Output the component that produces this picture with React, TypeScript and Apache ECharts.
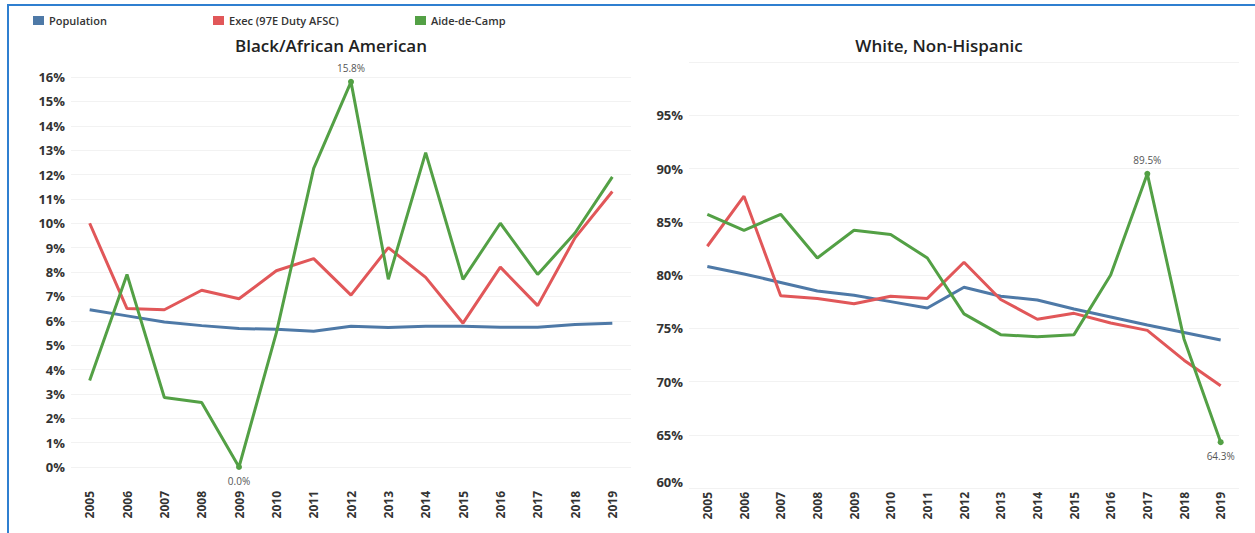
import React, { useEffect, useRef } from "react";
import * as echarts from "echarts";

const years = ["2005","2006","2007","2008","2009","2010","2011","2012","2013","2014","2015","2016","2017","2018","2019"];

const seriesNames = ["Population", "Exec (97E Duty AFSC)", "Aide-de-Camp"];
const colors = ["#4e79a7", "#e15759", "#53a045"];

// Black/African American (%)
const blackPopulation = [6.45, 6.2, 5.95, 5.8, 5.68, 5.65, 5.57, 5.77, 5.72, 5.77, 5.77, 5.73, 5.73, 5.85, 5.9];
const blackExec = [10.0, 6.5, 6.45, 7.25, 6.9, 8.05, 8.55, 7.05, 9.0, 7.78, 5.9, 8.2, 6.62, 9.4, 11.3];
const blackAide = [3.55, 7.9, 2.85, 2.65, 0.0, 5.5, 12.25, 15.8, 7.7, 12.9, 7.7, 10.0, 7.9, 9.6, 11.9];
const blackAideLabels: [number, string][] = [[7, "top"], [4, "bottom"]];

// White, Non-Hispanic (%)
const whitePopulation = [80.8, 80.1, 79.3, 78.5, 78.1, 77.5, 76.9, 78.85, 78.0, 77.65, 76.8, 76.05, 75.3, 74.6, 73.9];
const whiteExec = [82.7, 87.4, 78.05, 77.8, 77.3, 78.0, 77.8, 81.2, 77.7, 75.85, 76.4, 75.5, 74.8, 72.0, 69.6];
const whiteAide = [85.7, 84.2, 85.7, 81.6, 84.2, 83.8, 81.6, 76.35, 74.4, 74.2, 74.4, 80.0, 89.5, 74.0, 64.3];
const whiteAideLabels: [number, string][] = [[12, "top"], [14, "bottom"]];

const FONT = "'Open Sans', 'Noto Sans', sans-serif";

function buildData(values: number[], labels: [number, string][]) {
  return values.map((v, i) => {
    const l = labels.find((x) => x[0] === i);
    if (!l) return v;
    return {
      value: v,
      symbolSize: 6,
      label: {
        show: true,
        position: l[1],
        distance: 6,
        formatter: v.toFixed(1) + "%",
        color: "#555",
        fontSize: 10,
        fontFamily: FONT,
      },
    };
  });
}

export default function App() {
  const ref = useRef<HTMLDivElement>(null);
  useEffect(() => {
    if (!ref.current) return;
    const chart = echarts.init(ref.current, undefined, { renderer: "svg" });

    const axisLabelY = { color: "#333", fontSize: 13, fontWeight: "bold" as const, fontFamily: FONT };
    const xAxisBase = (gridIndex: number, margin: number) => ({
      type: "category",
      gridIndex,
      data: years,
      boundaryGap: true,
      axisLine: { show: false },
      axisTick: { show: false },
      axisLabel: { rotate: 90, color: "#333", fontSize: 12, fontWeight: "bold", fontFamily: FONT, margin },
    });

    const mkSeries = (idx: number, gridIdx: number, data: any[]) => ({
      name: seriesNames[idx],
      type: "line",
      xAxisIndex: gridIdx,
      yAxisIndex: gridIdx,
      data,
      symbol: "circle",
      symbolSize: 0,
      showSymbol: true,
      lineStyle: { width: 3, color: colors[idx] },
      itemStyle: { color: colors[idx] },
      z: idx === 0 ? 2 : idx === 1 ? 3 : 4,
    });

    const option: any = {
      animation: false,
      backgroundColor: "#ffffff",
      textStyle: { fontFamily: FONT },
      legend: [
        { data: [seriesNames[0]], left: 33, top: 15 },
        { data: [seriesNames[1]], left: 213, top: 15 },
        { data: [seriesNames[2]], left: 415, top: 15 },
      ].map((l) => ({
        ...l,
        icon: "rect",
        itemWidth: 11,
        itemHeight: 9,
        itemGap: 4,
        padding: 0,
        selectedMode: false,
        textStyle: { color: "#333", fontSize: 11, fontWeight: 600, fontFamily: FONT },
      })),
      grid: [
        { left: 71, top: 77, width: 560, height: 390 },
        { left: 689, top: 62, width: 550, height: 426 },
      ],
      xAxis: [xAxisBase(0, 24), xAxisBase(1, 4)],
      yAxis: [
        {
          type: "value",
          gridIndex: 0,
          min: 0,
          max: 16,
          interval: 1,
          axisLine: { show: false },
          axisTick: { show: false },
          splitLine: { lineStyle: { color: "#f2f2f2", width: 1 } },
          axisLabel: { ...axisLabelY, margin: 6, formatter: (v: number) => v + "%" },
        },
        {
          type: "value",
          gridIndex: 1,
          min: 60,
          max: 100,
          interval: 5,
          axisLine: { show: false },
          axisTick: { show: false },
          splitLine: { lineStyle: { color: "#f2f2f2", width: 1 } },
          axisLabel: {
            ...axisLabelY,
            margin: 6,
            verticalAlignMinLabel: "bottom",
            formatter: (v: number) => (v >= 100 ? "" : v + "%"),
          },
        },
      ],
      series: [
        mkSeries(0, 0, blackPopulation),
        mkSeries(1, 0, blackExec),
        mkSeries(2, 0, buildData(blackAide, blackAideLabels)),
        mkSeries(0, 1, whitePopulation),
        mkSeries(1, 1, whiteExec),
        mkSeries(2, 1, buildData(whiteAide, whiteAideLabels)),
      ],
      graphic: [
        { type: "line", shape: { x1: 7, y1: 5, x2: 1255, y2: 5 }, style: { stroke: "#2f7fd0", lineWidth: 2 } },
        { type: "line", shape: { x1: 8, y1: 5, x2: 8, y2: 533 }, style: { stroke: "#2f7fd0", lineWidth: 2 } },
        {
          type: "text",
          x: 331,
          y: 45,
          style: { text: "Black/African American", fontSize: 17, fontWeight: 600, fontFamily: FONT, fill: "#222", align: "center", verticalAlign: "middle" },
        },
        {
          type: "text",
          x: 939,
          y: 45,
          style: { text: "White, Non-Hispanic", fontSize: 17, fontWeight: 600, fontFamily: FONT, fill: "#222", align: "center", verticalAlign: "middle" },
        },
      ],
    };
    chart.setOption(option);
    return () => chart.dispose();
  }, []);

  return (
    <div
      ref={ref}
      style={{ position: "fixed", left: 0, top: 0, width: 1255, height: 533, background: "#fff" }}
    />
  );
}
